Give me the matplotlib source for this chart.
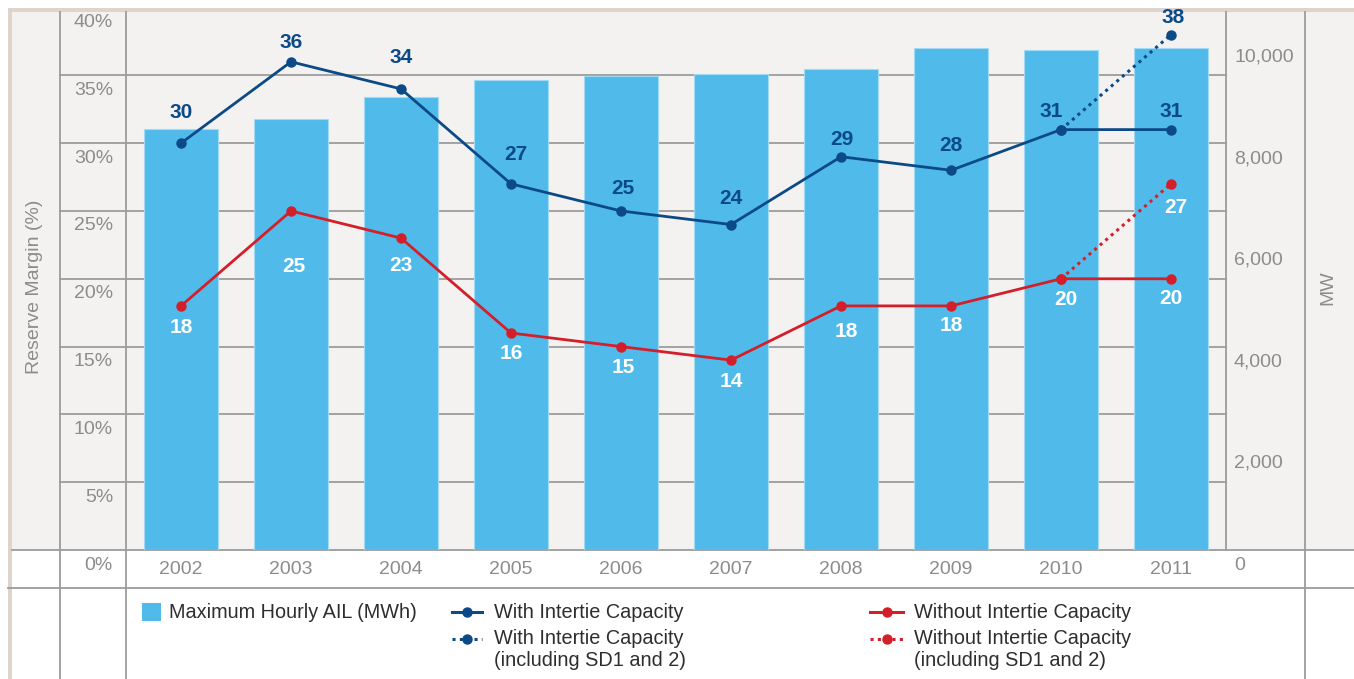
import matplotlib
matplotlib.use("Agg")
import matplotlib.pyplot as plt
from matplotlib.lines import Line2D
from matplotlib.patches import Rectangle
from matplotlib.transforms import blended_transform_factory, ScaledTranslation

plt.rcParams["font.family"] = ["Liberation Sans", "DejaVu Sans"]

# ---- data ----
years = ["2002", "2003", "2004", "2005", "2006", "2007", "2008", "2009", "2010", "2011"]
peak_ail_mw = [8290, 8480, 8920, 9250, 9330, 9370, 9470, 9880, 9840, 9880]
with_intertie = [30, 36, 34, 27, 25, 24, 29, 28, 31, 31]
without_intertie = [18, 25, 23, 16, 15, 14, 18, 18, 20, 20]
sd_years = [8, 9]                      # 2010 -> 2011 index
with_intertie_sd = [31, 38]
without_intertie_sd = [20, 27]
pct_ticks = [0, 5, 10, 15, 20, 25, 30, 35, 40]
mw_ticks = [0, 2000, 4000, 6000, 8000, 10000]

# label offsets in pixels (dx, dy)
with_offsets = [(0, 31), (0, 19), (0, 31), (5, 29), (2, 22), (0, 26), (1, 17), (0, 25), (-10, 18), (0, 18)]
with_sd_offset = (2, 17)
without_offsets = [(0, -22), (3, -56), (0, -27), (0, -20), (2, -21), (0, -21), (5, -26), (0, -20), (5, -21), (0, -20)]
without_sd_offset = (5, -24)

# ---- styles ----
BAR = "#50bbea"
BAR_EDGE = "#a3daf3"
BLUE = "#0b4a86"
RED = "#d41f2a"
GRID = "#9c9c9c"
TICK = "#8c8c8c"
BG = "#f4f2f1"
BORDER = "#ddd4cd"
LEGEND_TXT = "#2e2e2e"
VAL_SIZE = 15

W, H = 1354, 679
fig = plt.figure(figsize=(W / 100, H / 100), dpi=100)
fig.patch.set_facecolor("white")


def fx(x):
    return x / W


def fy(y):
    return 1 - y / H


# panel background and frame
fig.add_artist(Rectangle((fx(12), fy(550)), (W - 12) / W, 539 / H,
                         transform=fig.transFigure, color=BG, zorder=-5, lw=0))
fig.add_artist(Rectangle((fx(8), fy(11.5)), (W - 8) / W, 4 / H,
                         transform=fig.transFigure, color=BORDER, zorder=-4, lw=0))
fig.add_artist(Rectangle((fx(8), 0), 4 / W, (H - 8) / H,
                         transform=fig.transFigure, color=BORDER, zorder=-4, lw=0))

ax_b = fig.add_axes([fx(126), fy(550), 1100 / W, 540 / H])
ax_p = ax_b.twinx()
for a in (ax_b, ax_p):
    a.axis("off")
    a.patch.set_visible(False)

x = list(range(len(years)))
ax_b.set_xlim(-0.5, len(years) - 0.5)
ax_b.set_ylim(0, 10630)
ax_p.set_ylim(0, 39.82)

# gridlines (left scale), behind the bars
grid_tr = blended_transform_factory(fig.transFigure, ax_p.transData)
for p in pct_ticks[1:-1]:
    fig.add_artist(Line2D([fx(60), fx(1226)], [p, p], transform=grid_tr,
                          color=GRID, lw=1.3, zorder=-2))


# table lines
def hline(y, x0, x1):
    fig.add_artist(Line2D([fx(x0), fx(x1)], [fy(y), fy(y)], transform=fig.transFigure,
                          color=GRID, lw=1.3, zorder=-2))


def vline(xp, y0, y1):
    fig.add_artist(Line2D([fx(xp), fx(xp)], [fy(y0), fy(y1)], transform=fig.transFigure,
                          color=GRID, lw=1.3, zorder=-2))


hline(550, 12, W)
hline(588, 8, W)
vline(60, 11.5, H)
vline(126, 11.5, H)
vline(1226, 11.5, 550)
vline(1305, 11.5, H)

# bars
ax_b.bar(x, peak_ail_mw, width=0.665, color=BAR, edgecolor=BAR_EDGE, linewidth=0.8, zorder=2)

# reserve margin lines
ax_p.plot(x, with_intertie, color=BLUE, lw=2, marker="o", ms=6.5, zorder=4)
ax_p.plot(sd_years, with_intertie_sd, color=BLUE, lw=2.2, ls=(0, (1, 1.4)),
          marker="o", ms=6.5, zorder=4)
ax_p.plot(x, without_intertie, color=RED, lw=2, marker="o", ms=6.5, zorder=4)
ax_p.plot(sd_years, without_intertie_sd, color=RED, lw=2.2, ls=(0, (1, 1.4)),
          marker="o", ms=6.5, zorder=4)

# value labels
for i, v in enumerate(with_intertie):
    ax_p.annotate(str(v), (i, v), xytext=with_offsets[i], textcoords="offset pixels",
                  ha="center", va="center", fontsize=VAL_SIZE, fontweight="bold", color=BLUE, zorder=5)
ax_p.annotate(str(with_intertie_sd[1]), (sd_years[1], with_intertie_sd[1]), xytext=with_sd_offset,
              textcoords="offset pixels", ha="center", va="center", fontsize=VAL_SIZE,
              fontweight="bold", color=BLUE, zorder=5)
for i, v in enumerate(without_intertie):
    ax_p.annotate(str(v), (i, v), xytext=without_offsets[i], textcoords="offset pixels",
                  ha="center", va="center", fontsize=VAL_SIZE, fontweight="bold", color="white", zorder=5)
ax_p.annotate(str(without_intertie_sd[1]), (sd_years[1], without_intertie_sd[1]),
              xytext=without_sd_offset, textcoords="offset pixels", ha="center", va="center",
              fontsize=VAL_SIZE, fontweight="bold", color="white", zorder=5)

# tick labels, set just below their gridline
down = ScaledTranslation(0, -15 / 100, fig.dpi_scale_trans)
left_tr = blended_transform_factory(fig.transFigure, ax_p.transData) + down
for p in pct_ticks:
    ax_p.text(fx(113), p, f"{p}%", transform=left_tr, ha="right", va="center",
              fontsize=14, color=TICK, clip_on=False)
right_tr = blended_transform_factory(fig.transFigure, ax_b.transData) + down
for m in mw_ticks:
    ax_b.text(fx(1234), m, f"{m:,}", transform=right_tr, ha="left", va="center",
              fontsize=14, color=TICK, clip_on=False)
year_tr = blended_transform_factory(ax_b.transData, fig.transFigure)
for i, yr in enumerate(years):
    ax_b.text(i, fy(570), yr, transform=year_tr, ha="center", va="center",
              fontsize=14, color=TICK, clip_on=False)

# axis titles
fig.text(fx(35), fy(287), "Reserve Margin (%)", rotation=90, ha="center", va="center",
         fontsize=14, color=TICK)
fig.text(fx(1328), fy(288), "MW", rotation=90, ha="center", va="center",
         fontsize=14, color=TICK)

# legend
fig.add_artist(Rectangle((fx(142), fy(621)), 19 / W, 18 / H, transform=fig.transFigure,
                         color=BAR, lw=0))
fig.text(fx(169), fy(612), "Maximum Hourly AIL (MWh)", ha="left", va="center",
         fontsize=14.3, color=LEGEND_TXT)


def legend_key(x0, x1, y, color, ls):
    fig.add_artist(Line2D([fx(x0), fx(x1)], [fy(y), fy(y)], transform=fig.transFigure,
                          color=color, lw=2.2, ls=ls))
    fig.add_artist(Line2D([fx((x0 + x1) / 2)], [fy(y)], transform=fig.transFigure,
                          color=color, marker="o", ms=6.5, lw=0))


def legend_text(xp, y, s):
    fig.text(fx(xp), fy(y), s, ha="left", va="center", fontsize=14.3, color=LEGEND_TXT)


legend_key(452, 482, 612, BLUE, "-")
legend_key(452, 482, 639, BLUE, (0, (1, 1.4)))
legend_text(494, 612, "With Intertie Capacity")
legend_text(494, 639, "With Intertie Capacity")
legend_text(494, 661, "(including SD1 and 2)")

legend_key(870, 903, 612, RED, "-")
legend_key(870, 903, 639, RED, (0, (1, 1.4)))
legend_text(914, 612, "Without Intertie Capacity")
legend_text(914, 639, "Without Intertie Capacity")
legend_text(914, 661, "(including SD1 and 2)")

fig.savefig("out.png", dpi=100, facecolor="white")
